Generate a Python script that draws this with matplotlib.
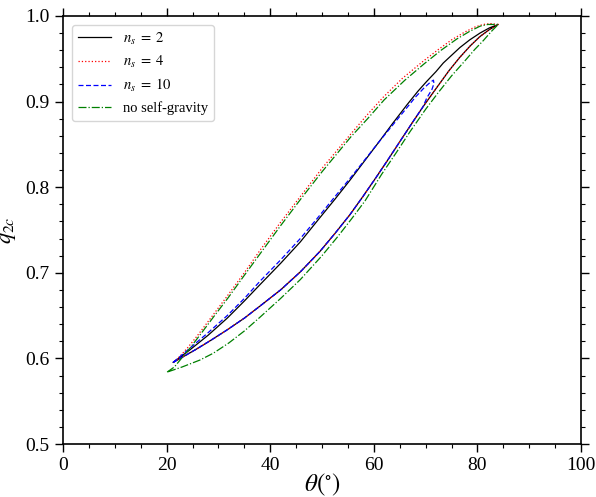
import numpy as np
import matplotlib
matplotlib.use('Agg')
import matplotlib.pyplot as plt
from matplotlib.ticker import MultipleLocator

plt.rcParams['font.family'] = ['Liberation Serif', 'DejaVu Serif']
plt.rcParams['mathtext.fontset'] = 'stix'

# shared lower branch of the self-gravity loops (theta, q2c)
low_x = [21.3, 23.5, 25.8, 28.5, 31.6, 35.0, 38.0, 42.0, 45.8, 49.6, 52.5, 55.4, 58.0, 60.5, 62.5,
         65.1, 67.5, 69.5, 72.1, 74.5, 76.5, 78.6, 80.5, 82.3, 84.0]
low_y = [0.5955, 0.603, 0.611, 0.621, 0.633, 0.647, 0.661, 0.680, 0.701, 0.725, 0.746, 0.768, 0.790,
         0.812, 0.830, 0.854, 0.876, 0.894, 0.916, 0.936, 0.951, 0.965, 0.976, 0.984, 0.990]

# n_s = 2 upper branch
ns2_x = [21.3, 24.5, 28.0, 31.7, 35.0, 38.0, 42.0, 45.8, 49.0, 52.5, 55.5, 58.0, 61.0, 63.7, 66.5,
         68.5, 70.2, 72.0, 73.4, 75.0, 76.6, 78.5, 80.5, 82.3, 84.0]
ns2_y = [0.5955, 0.610, 0.627, 0.647, 0.667, 0.686, 0.711, 0.736, 0.760, 0.786, 0.809, 0.829, 0.853,
         0.875, 0.897, 0.912, 0.9235, 0.935, 0.945, 0.954, 0.963, 0.972, 0.980, 0.986, 0.990]

# n_s = 4 upper branch
ns4_x = [21.3, 22.5, 24.0, 26.0, 28.5, 31.6, 35.0, 38.0, 42.0, 45.8, 50.0, 55.4, 58.5, 61.8, 65.5,
         69.5, 72.5, 75.0, 77.5, 79.5, 81.1, 82.5, 84.0]
ns4_y = [0.5955, 0.602, 0.612, 0.627, 0.647, 0.672, 0.700, 0.726, 0.759, 0.789, 0.822, 0.861, 0.883,
         0.905, 0.927, 0.947, 0.961, 0.972, 0.981, 0.987, 0.990, 0.991, 0.990]

# n_s = 10 upper branch up to the tip, then back down to the lower branch
ns10_x = [21.3, 24.5, 28.0, 31.7, 35.0, 38.0, 42.0, 45.8, 49.0, 52.5, 55.5, 58.0, 61.0, 63.7, 66.0,
          68.0, 69.7, 70.8, 71.5, 71.6, 71.2, 70.2, 69.5]
ns10_y = [0.5955, 0.612, 0.630, 0.650, 0.670, 0.690, 0.715, 0.740, 0.763, 0.789, 0.811, 0.830, 0.853,
          0.873, 0.890, 0.905, 0.916, 0.922, 0.925, 0.921, 0.914, 0.904, 0.894]

# no self-gravity loop
ng_up_x = [20.1, 21.5, 23.0, 24.5, 26.4, 29.0, 31.9, 35.0, 38.5, 42.0, 46.0, 50.0, 55.6, 58.8, 62.0,
           66.0, 69.7, 73.0, 76.0, 78.5, 80.5, 82.0, 84.0]
ng_up_y = [0.584, 0.590, 0.601, 0.612, 0.627, 0.648, 0.671, 0.697, 0.726, 0.755, 0.787, 0.818, 0.859,
           0.880, 0.902, 0.925, 0.944, 0.960, 0.973, 0.982, 0.988, 0.990, 0.990]
ng_low_x = [20.1, 23.0, 26.4, 29.0, 32.0, 35.0, 38.0, 42.0, 45.8, 50.0, 53.0, 55.7, 58.3, 61.5, 64.4,
            67.0, 70.0, 72.5, 75.0, 77.5, 79.5, 81.1, 82.7, 84.0]
ng_low_y = [0.584, 0.590, 0.598, 0.606, 0.618, 0.632, 0.648, 0.670, 0.692, 0.720, 0.742, 0.763, 0.784,
            0.815, 0.841, 0.865, 0.891, 0.911, 0.930, 0.947, 0.961, 0.971, 0.982, 0.990]

fig = plt.figure(figsize=(5.96, 4.97), dpi=100)
ax = fig.add_axes([0.1057, 0.1066, 0.8693, 0.8614])

lx = np.array(low_x)
ly = np.array(low_y)
ax.plot(ns2_x + lx[::-1].tolist(), ns2_y + ly[::-1].tolist(), color='k', ls='-', lw=0.9,
        label=r'$n_s\;=\;2$')
ax.plot(ns4_x + lx[::-1].tolist(), ns4_y + ly[::-1].tolist(), color='r', ls=':', lw=0.9,
        label=r'$n_s\;=\;4$')
keep = lx < 69.5
ax.plot(ns10_x + lx[keep][::-1].tolist(), ns10_y + ly[keep][::-1].tolist(), color='b', ls='--',
        lw=0.9, dashes=(4, 2), label=r'$n_s\;=\;10$')
ax.plot(ng_up_x + ng_low_x[::-1], ng_up_y + ng_low_y[::-1], color='g', ls='-.', lw=0.9,
        label='no self-gravity')

ax.set_xlim(0, 100)
ax.set_ylim(0.5, 1.0)
ax.xaxis.set_major_locator(MultipleLocator(20))
ax.xaxis.set_minor_locator(MultipleLocator(5))
ax.yaxis.set_major_locator(MultipleLocator(0.1))
ax.yaxis.set_minor_locator(MultipleLocator(0.02))
ax.tick_params(which='both', direction='out', top=True, right=True, labelsize=14)
ax.tick_params(which='major', length=6, width=1)
ax.tick_params(which='minor', length=3, width=0.8)
for s in ax.spines.values():
    s.set_linewidth(1.2)

ax.set_xlabel(r'$\theta(^{\circ})$', fontsize=18, labelpad=-2)
ax.set_ylabel(r'$q_{2c}$', fontsize=16, labelpad=5)

ax.legend(loc='upper left', fontsize=10.5, handlelength=2.3, borderaxespad=0.6)

fig.savefig('out.png', dpi=100)
